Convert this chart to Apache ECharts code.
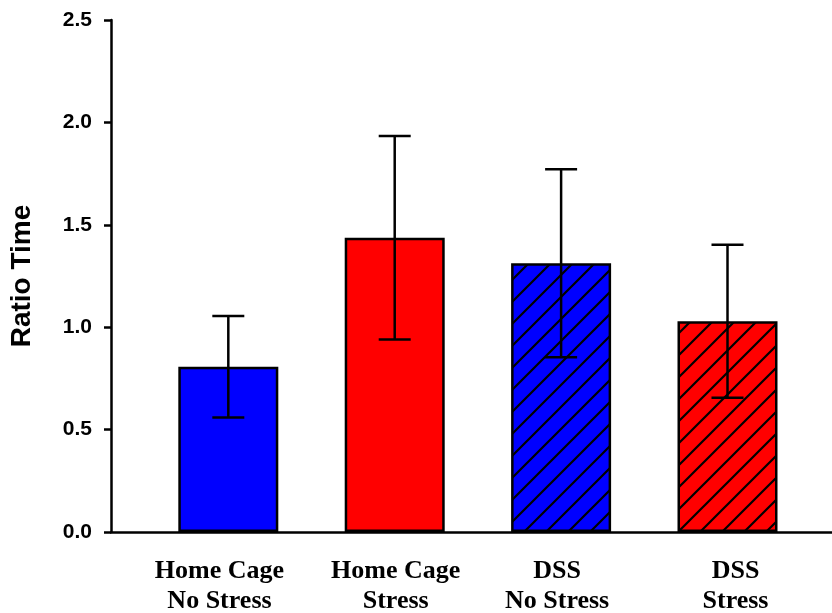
<!DOCTYPE html>
<html><head><meta charset="utf-8">
<script src="https://cdn.jsdelivr.net/npm/echarts@6/dist/echarts.min.js"></script>
<style>html,body{margin:0;padding:0;background:#fff}#c{width:832px;height:613px}</style>
</head><body><div id="c"></div>
<script>
const categories = ['Home Cage\nNo Stress', 'Home Cage\nStress', 'DSS\nNo Stress', 'DSS\nStress'];
const means = [0.807, 1.437, 1.312, 1.029];
const errors = [0.248, 0.497, 0.459, 0.374];
const yTicks = [0, 0.5, 1.0, 1.5, 2.0, 2.5];

// layout only: small horizontal nudges of the category labels (axis units)
const labelNudge = [-0.053, 0.006, -0.024, 0.048];

function hatch(bg) {
  const s = 22, c = document.createElement('canvas');
  c.width = s; c.height = s;
  const g = c.getContext('2d');
  g.fillStyle = bg; g.fillRect(0, 0, s, s);
  g.strokeStyle = '#000'; g.lineWidth = 2.2;
  g.beginPath();
  g.moveTo(-2, s + 2); g.lineTo(s + 2, -2);
  g.moveTo(-2, 2); g.lineTo(2, -2);
  g.moveTo(s - 2, s + 2); g.lineTo(s + 2, s - 2);
  g.stroke();
  return c;
}
const fills = ['#0000FF', '#FF0000', {image: hatch('#0000FF'), repeat: 'repeat'}, {image: hatch('#FF0000'), repeat: 'repeat'}];

const chart = echarts.init(document.getElementById('c'));
chart.setOption({
  animation: false,
  grid: {left: 111, right: 0, top: 20, bottom: 81, outerBoundsMode: 'none', containLabel: false},
  xAxis: {
    type: 'value', min: 0.295, max: 4.628,
    axisLine: {show: true, lineStyle: {color: '#000', width: 2.5}},
    axisTick: {show: false},
    splitLine: {show: false},
    axisLabel: {
      customValues: categories.map((c, i) => i + 1 + labelNudge[i]),
      formatter: v => categories[Math.round(v) - 1] || '',
      fontFamily: 'Liberation Serif', fontWeight: 'bold', fontSize: 26,
      color: '#000', lineHeight: 30, margin: 24
    }
  },
  yAxis: {
    type: 'value', min: 0, max: 2.5, interval: 0.5,
    name: 'Ratio Time', nameLocation: 'middle', nameGap: 75, nameRotate: 90,
    nameTextStyle: {fontFamily: 'Liberation Sans', fontWeight: 'bold', fontSize: 28, color: '#000'},
    axisLine: {show: true, lineStyle: {color: '#000', width: 2.5}},
    axisTick: {show: true, length: 7, lineStyle: {color: '#000', width: 2.5}},
    splitLine: {show: false},
    axisLabel: {
      formatter: v => v.toFixed(1),
      fontFamily: 'Liberation Sans', fontWeight: 'bold', fontSize: 21, color: '#000', margin: 19
    }
  },
  series: [
    {
      type: 'bar', barWidth: 100,
      data: means.map((m, i) => ({value: [i + 1, m], itemStyle: {color: fills[i]}})),
      itemStyle: {borderColor: '#000', borderWidth: 2.5}
    },
    {
      type: 'custom', z: 10,
      data: means.map((m, i) => [i + 1, m - errors[i], m + errors[i]]),
      renderItem: function (params, api) {
        const x = api.value(0);
        const lo = api.coord([x, api.value(1)]);
        const hi = api.coord([x, api.value(2)]);
        const w = 16;
        const st = {stroke: '#000', lineWidth: 2.5};
        return {type: 'group', children: [
          {type: 'line', shape: {x1: lo[0], y1: lo[1], x2: hi[0], y2: hi[1]}, style: st},
          {type: 'line', shape: {x1: lo[0] - w, y1: lo[1], x2: lo[0] + w, y2: lo[1]}, style: st},
          {type: 'line', shape: {x1: hi[0] - w, y1: hi[1], x2: hi[0] + w, y2: hi[1]}, style: st}
        ]};
      }
    }
  ]
});
</script></body></html>
